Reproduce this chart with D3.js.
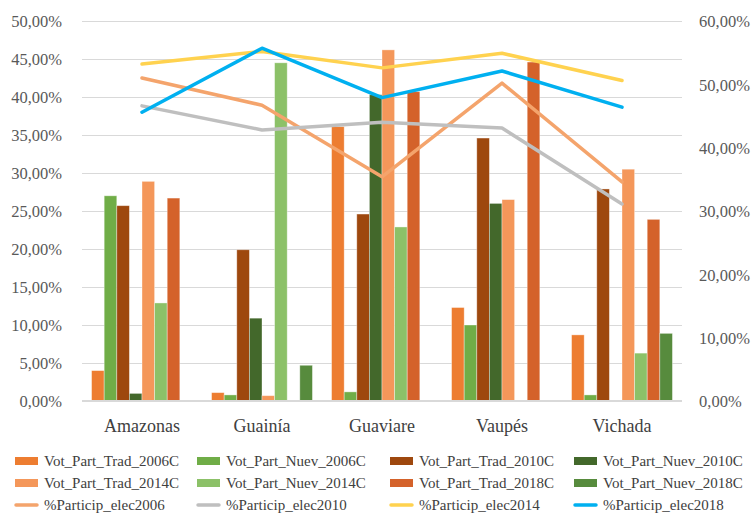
<!DOCTYPE html>
<html>
<head>
<meta charset="utf-8">
<script src="https://cdn.jsdelivr.net/npm/d3@7/dist/d3.min.js"></script>
<style>
  html, body { margin: 0; padding: 0; background: #fff; }
  svg { display: block; }
</style>
</head>
<body>
<svg id="chart" width="753" height="525"></svg>
<script>
// Departments
const categories = ["Amazonas", "Guainía", "Guaviare", "Vaupés", "Vichada"];

// Vote share by party type and election (left axis, %)
const barSeries = [
  "Vot_Part_Trad_2006C", "Vot_Part_Nuev_2006C",
  "Vot_Part_Trad_2010C", "Vot_Part_Nuev_2010C",
  "Vot_Part_Trad_2014C", "Vot_Part_Nuev_2014C",
  "Vot_Part_Trad_2018C", "Vot_Part_Nuev_2018C"
];
const votTrad2006 = [4.0, 1.1, 36.1, 12.3, 8.7];
const votNuev2006 = [27.0, 0.8, 1.2, 10.0, 0.8];
const votTrad2010 = [25.7, 19.9, 24.6, 34.6, 27.9];
const votNuev2010 = [1.0, 10.9, 40.3, 26.0, 0];
const votTrad2014 = [28.9, 0.7, 46.2, 26.5, 30.5];
const votNuev2014 = [12.9, 44.5, 22.9, 0, 6.3];
const votTrad2018 = [26.7, 0, 40.7, 44.6, 23.9];
const votNuev2018 = [0, 4.7, 0, 0, 8.9];
const barValues = [votTrad2006, votNuev2006, votTrad2010, votNuev2010,
                   votTrad2014, votNuev2014, votTrad2018, votNuev2018];
const barColors = ["#ED7D31", "#70AD47", "#9E480E", "#43682B",
                   "#F4975A", "#8CC168", "#D4622A", "#578B3D"];

// Turnout per election (right axis, %)
const lineSeries = ["%Particip_elec2006", "%Particip_elec2010", "%Particip_elec2014", "%Particip_elec2018"];
const particip2006 = [51.0, 46.7, 35.4, 50.2, 34.6];
const particip2010 = [46.6, 42.8, 44.0, 43.1, 31.1];
const particip2014 = [53.2, 55.2, 52.6, 54.9, 50.6];
const particip2018 = [45.6, 55.7, 47.9, 52.1, 46.4];
const lineValues = [particip2006, particip2010, particip2014, particip2018];
const lineColors = ["#F4A46C", "#BFBFBF", "#FFD24F", "#00B0F0"];

// Axis ticks
const leftTicks = [0, 5, 10, 15, 20, 25, 30, 35, 40, 45, 50];
const rightTicks = [0, 10, 20, 30, 40, 50, 60];

const fmt = v => v.toFixed(2).replace(".", ",") + "%";

// Pick the first installed serif face
function pickFont(cands) {
  const ctx = document.createElement("canvas").getContext("2d");
  const probe = "Amazonas Vichada 50,00% Wmgil";
  const w = f => { ctx.font = "40px " + f; return ctx.measureText(probe).width; };
  const bases = ["monospace", "sans-serif"];
  for (const c of cands) {
    const ok = bases.every(b => Math.abs(w(`"${c}", ${b}`) - w(b)) > 0.5);
    if (ok) return `"${c}", serif`;
  }
  return "serif";
}
const FONT = pickFont(["Liberation Serif", "Tinos", "DejaVu Serif", "Noto Serif", "Times New Roman", "FreeSerif", "Georgia"]);

const svg = d3.select("#chart").style("font-family", FONT);
const plot = { left: 82, right: 682, top: 21, bottom: 401 };

const x = d3.scaleBand().domain(categories).range([plot.left, plot.right]).paddingInner(0).paddingOuter(0);
const xInner = d3.scaleBand().domain(barSeries).range([0, x.bandwidth()]).paddingOuter(0.76);
const yL = d3.scaleLinear().domain([0, 50]).range([plot.bottom, plot.top]);
const yR = d3.scaleLinear().domain([0, 60]).range([plot.bottom, plot.top]);

// Gridlines (left axis ticks)
svg.append("g")
  .attr("transform", `translate(${plot.left},0)`)
  .call(d3.axisLeft(yL).tickValues(leftTicks).tickSize(-(plot.right - plot.left)).tickFormat(""))
  .call(g => g.select(".domain").remove())
  .call(g => g.selectAll("line").attr("stroke", "#D9D9D9").attr("stroke-width", 1));

// Left tick labels
svg.append("g")
  .attr("transform", `translate(62,0)`)
  .call(d3.axisLeft(yL).tickValues(leftTicks).tickSize(0).tickPadding(0).tickFormat(fmt))
  .call(g => g.select(".domain").remove())
  .call(g => g.selectAll("text")
    .attr("font-family", FONT)
    .attr("font-size", 16.5).attr("fill", "#595959").attr("dy", "0.35em"));

// Right tick labels
svg.append("g")
  .attr("transform", `translate(699,0)`)
  .call(d3.axisRight(yR).tickValues(rightTicks).tickSize(0).tickPadding(0).tickFormat(fmt))
  .call(g => g.select(".domain").remove())
  .call(g => g.selectAll("text")
    .attr("font-family", FONT)
    .attr("font-size", 16.5).attr("fill", "#595959").attr("dy", "0.35em"));

// Bars
const groups = svg.append("g").selectAll("g")
  .data(categories)
  .join("g")
  .attr("transform", d => `translate(${x(d)},0)`);

groups.selectAll("rect")
  .data((d, i) => barSeries.map((s, k) => ({ s, k, v: barValues[k][i] })).filter(e => e.v > 0))
  .join("rect")
  .attr("x", e => xInner(e.s))
  .attr("width", xInner.bandwidth())
  .attr("y", e => yL(e.v))
  .attr("height", e => yL(0) - yL(e.v))
  .attr("fill", e => barColors[e.k])
  .attr("stroke", "rgba(255,255,255,0.45)")
  .attr("stroke-width", 0.8);

// Category axis line
svg.append("line")
  .attr("x1", plot.left).attr("x2", plot.right)
  .attr("y1", plot.bottom).attr("y2", plot.bottom)
  .attr("stroke", "#D9D9D9").attr("stroke-width", 2);

// Category labels
svg.append("g")
  .attr("transform", `translate(0,${plot.bottom})`)
  .call(d3.axisBottom(x).tickSize(0).tickPadding(0))
  .call(g => g.select(".domain").remove())
  .call(g => g.selectAll("text")
    .attr("font-family", FONT)
    .attr("font-size", 18).attr("fill", "#404040")
    .attr("dy", null).attr("y", 31));

// Turnout lines
const line = d3.line()
  .x((d, i) => x(categories[i]) + x.bandwidth() / 2)
  .y(d => yR(d));

svg.append("g").selectAll("path")
  .data(lineValues)
  .join("path")
  .attr("d", d => line(d))
  .attr("fill", "none")
  .attr("stroke", (d, i) => lineColors[i])
  .attr("stroke-width", 3.5)
  .attr("stroke-linejoin", "round")
  .attr("stroke-linecap", "round");

// Legend
const legendCols = [15, 197, 390, 574];
const legendRows = [466, 488, 510];
const legendItems = barSeries.map((s, k) => ({ name: s, color: barColors[k], type: "bar", idx: k }))
  .concat(lineSeries.map((s, k) => ({ name: s, color: lineColors[k], type: "line", idx: 8 + k })));

const legend = svg.append("g");
legendItems.forEach(item => {
  const cx = legendCols[item.idx % 4];
  const cy = legendRows[Math.floor(item.idx / 4)];
  const g = legend.append("g").attr("transform", `translate(${cx},${cy})`);
  if (item.type === "bar") {
    g.append("rect").attr("x", 0).attr("y", -9).attr("width", 23).attr("height", 8).attr("fill", item.color);
  } else {
    g.append("line").attr("x1", 1).attr("x2", 22).attr("y1", -5).attr("y2", -5)
      .attr("stroke", item.color).attr("stroke-width", 3.5).attr("stroke-linecap", "round");
  }
  g.append("text").attr("x", 29).attr("y", 0)
    .attr("font-family", FONT)
    .attr("font-size", 15).attr("fill", "#404040")
    .text(item.name);
});
</script>
</body>
</html>
